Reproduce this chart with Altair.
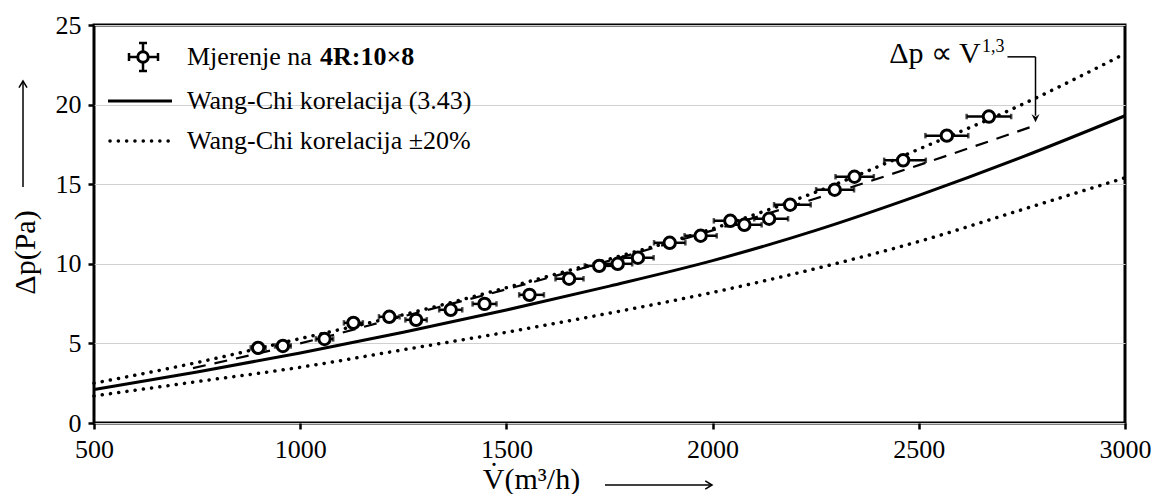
import altair as alt
import pandas as pd

# ---------------- data ----------------
V_meas = [898, 958, 1059, 1129, 1216, 1281, 1365, 1447, 1556, 1652, 1725, 1770,
          1819, 1896, 1971, 2043, 2077, 2137, 2188, 2296, 2344, 2462, 2568, 2670]
dp_meas = [4.72, 4.84, 5.28, 6.29, 6.67, 6.48, 7.11, 7.48, 8.05, 9.06, 9.87, 10.0,
           10.38, 11.32, 11.76, 12.7, 12.45, 12.83, 13.71, 14.65, 15.47, 16.5, 18.05, 19.25]
err_lo = [18, 19, 21, 23, 25, 26, 28, 29, 25, 33, 35, 35,
          36, 38, 39, 40, 41, 36, 39, 45, 46, 46, 52, 54]
err_hi = [18, 19, 21, 23, 25, 26, 28, 29, 35, 35, 35, 35,
          38, 38, 39, 42, 42, 46, 50, 47, 47, 55, 52, 54]

V_curve = [500, 750, 1000, 1250, 1500, 1750, 2000, 2250, 2500, 2750, 3000]
dp_wang = [2.1, 3.2, 4.4, 5.7, 7.1, 8.6, 10.2, 12.1, 14.3, 16.7, 19.3]
dp_upper = [2.5, 3.8, 5.3, 6.8, 8.5, 10.3, 12.2, 14.5, 17.2, 20.0, 23.2]
dp_lower = [1.7, 2.6, 3.5, 4.6, 5.7, 6.9, 8.2, 9.7, 11.4, 13.4, 15.4]

V_fit = [740, 1000, 1250, 1500, 1750, 2000, 2250, 2500, 2783]
dp_fit = [3.45, 5.0, 6.7, 8.4, 10.2, 12.1, 14.1, 16.2, 18.7]

x_ticks = [500, 1000, 1500, 2000, 2500, 3000]
y_ticks = [0, 5, 10, 15, 20, 25]

legend_labels = ["Mjerenje na", "4R:10×8", "Wang-Chi korelacija (3.43)", "Wang-Chi korelacija ±20%"]

FONT = "Liberation Serif"

# ---------------- tables ----------------
meas = pd.DataFrame({
    "V": V_meas, "dp": dp_meas,
    "lo": [v - e for v, e in zip(V_meas, err_lo)],
    "hi": [v + e for v, e in zip(V_meas, err_hi)],
})
curves = pd.DataFrame({"V": V_curve, "wang": dp_wang, "up": dp_upper, "low": dp_lower})
fit = pd.DataFrame({"V": V_fit, "dp": dp_fit})

xs = alt.Scale(domain=[500, 3000], nice=False, zero=False)
ys = alt.Scale(domain=[0, 25], nice=False, zero=True)

xenc = alt.X("V:Q", scale=xs, axis=alt.Axis(
    values=x_ticks, format="d", title="V̇(m³/h)", grid=False, labelFlush=False, labelPadding=7,
    titleX=437, titleY=65, titleBaseline="alphabetic", titleAlign="center", titleAnchor="start"))
yenc = alt.Y("dp:Q", scale=ys, axis=alt.Axis(
    values=y_ticks, format="d", title="Δp(Pa)", grid=True, labelFlush=False, labelPadding=7,
    titleX=-69, titleY=227, titleAngle=270, titleAlign="center", titleBaseline="middle"))

base = alt.Chart(curves)
DOT = dict(color="black", strokeWidth=3.5, strokeDash=[0.1, 8.2], strokeCap="round", interpolate="monotone")

wang = base.mark_line(color="black", strokeWidth=3, interpolate="monotone").encode(
    x=xenc, y=alt.Y("wang:Q", scale=ys))
up = base.mark_line(**DOT).encode(x="V:Q", y=alt.Y("up:Q", scale=ys))
low = base.mark_line(**DOT).encode(x="V:Q", y=alt.Y("low:Q", scale=ys))

fitline = alt.Chart(fit).mark_line(color="black", strokeWidth=2.2, strokeDash=[13, 9],
                                   interpolate="monotone").encode(
    x=alt.X("V:Q", scale=xs), y=yenc)

ebar = alt.Chart(meas).mark_rule(color="black", strokeWidth=2.5).encode(
    x=alt.X("lo:Q", scale=xs), x2="hi:Q", y=alt.Y("dp:Q", scale=ys))
cap_shape = "M 0 -1 L 0 1"
cap_lo = alt.Chart(meas).mark_point(shape=cap_shape, size=30, color="black", strokeWidth=2.5).encode(
    x=alt.X("lo:Q", scale=xs), y=alt.Y("dp:Q", scale=ys))
cap_hi = alt.Chart(meas).mark_point(shape=cap_shape, size=30, color="black", strokeWidth=2.5).encode(
    x=alt.X("hi:Q", scale=xs), y=alt.Y("dp:Q", scale=ys))
pts = alt.Chart(meas).mark_point(shape="circle", size=130, filled=False, fill="white", fillOpacity=1,
                                 stroke="black", strokeWidth=3, opacity=1).encode(
    x=alt.X("V:Q", scale=xs), y=alt.Y("dp:Q", scale=ys))

# ---------------- annotation (data coordinates) ----------------
ann = pd.DataFrame({"V": [2650], "dp": [22.6]})
ann_sup = pd.DataFrame({"V": [2653], "dp": [23.3]})
ann_h = pd.DataFrame({"V": [2715], "V2": [2783], "dp": [23.0]})
ann_v = pd.DataFrame({"V": [2783], "dp": [23.0], "dp2": [19.3]})
ann_head = pd.DataFrame({"V": [2783], "dp": [19.1]})

t_ann = alt.Chart(ann).mark_text(text="Δp ∝ V", font=FONT, fontSize=30, align="right",
                                 baseline="alphabetic", color="black").encode(
    x=alt.X("V:Q", scale=xs), y=alt.Y("dp:Q", scale=ys))
t_sup = alt.Chart(ann_sup).mark_text(text="1,3", font=FONT, fontSize=18, align="left",
                                     baseline="alphabetic", color="black").encode(
    x=alt.X("V:Q", scale=xs), y=alt.Y("dp:Q", scale=ys))
r_h = alt.Chart(ann_h).mark_rule(color="black", strokeWidth=1.5).encode(
    x=alt.X("V:Q", scale=xs), x2="V2:Q", y=alt.Y("dp:Q", scale=ys))
r_v = alt.Chart(ann_v).mark_rule(color="black", strokeWidth=1.5).encode(
    x=alt.X("V:Q", scale=xs), y=alt.Y("dp:Q", scale=ys), y2="dp2:Q")
head = alt.Chart(ann_head).mark_point(shape="M -0.5 -0.6 L 0 0.4 L 0.5 -0.6 L 0 -0.25 Z", size=260,
                                      filled=True, color="black", opacity=1).encode(
    x=alt.X("V:Q", scale=xs), y=alt.Y("dp:Q", scale=ys))

# ---------------- manual legend and axis-title arrows (pixels, relative to plot area) ----------------
one = pd.DataFrame({"a": [0]})
lg = alt.Chart(one)
K = dict(color="black", strokeWidth=2.5)
lg_bar_h = lg.mark_rule(**K).encode(x=alt.value(35), x2=alt.value(64), y=alt.value(32))
lg_bar_v = lg.mark_rule(**K).encode(x=alt.value(49), y=alt.value(18), y2=alt.value(46))
lg_cap_l = lg.mark_rule(**K).encode(x=alt.value(35), y=alt.value(28), y2=alt.value(36))
lg_cap_r = lg.mark_rule(**K).encode(x=alt.value(64), y=alt.value(28), y2=alt.value(36))
lg_cap_t = lg.mark_rule(**K).encode(x=alt.value(45), x2=alt.value(53), y=alt.value(18))
lg_cap_b = lg.mark_rule(**K).encode(x=alt.value(45), x2=alt.value(53), y=alt.value(46))
lg_circ = lg.mark_point(shape="circle", size=110, filled=False, fill="white", fillOpacity=1,
                        stroke="black", strokeWidth=3, opacity=1).encode(
    x=alt.value(49), y=alt.value(32))
lg_solid = lg.mark_rule(color="black", strokeWidth=3).encode(
    x=alt.value(14), x2=alt.value(78), y=alt.value(76))
lg_dot = lg.mark_rule(color="black", strokeWidth=3.5, strokeDash=[0.1, 8.2], strokeCap="round").encode(
    x=alt.value(16), x2=alt.value(78), y=alt.value(116))
lg_t1 = lg.mark_text(text=legend_labels[0], font=FONT, fontSize=26, align="left", baseline="middle").encode(
    x=alt.value(93), y=alt.value(32))
lg_t1b = lg.mark_text(text=legend_labels[1], font=FONT, fontSize=26, fontWeight="bold", align="left",
                      baseline="middle").encode(x=alt.value(226), y=alt.value(32))
lg_t2 = lg.mark_text(text=legend_labels[2], font=FONT, fontSize=26, align="left", baseline="middle").encode(
    x=alt.value(93), y=alt.value(76))
lg_t3 = lg.mark_text(text=legend_labels[3], font=FONT, fontSize=26, align="left", baseline="middle").encode(
    x=alt.value(93), y=alt.value(116))

# y-title arrow (pointing up) and x-title arrow (pointing right)
ya_line = lg.mark_rule(color="black", strokeWidth=1.5).encode(
    x=alt.value(-71), y=alt.value(57), y2=alt.value(162))
ya_head = lg.mark_point(shape="M -0.6 1 L 0 0 L 0.6 1", size=180, filled=False, color="black",
                        strokeWidth=1.5, opacity=1).encode(x=alt.value(-71), y=alt.value(56))
xa_line = lg.mark_rule(color="black", strokeWidth=1.5).encode(
    x=alt.value(511), x2=alt.value(617), y=alt.value(460))
xa_head = lg.mark_point(shape="M -1 -0.6 L 0 0 L -1 0.6", size=180, filled=False, color="black",
                        strokeWidth=1.5, opacity=1).encode(x=alt.value(618), y=alt.value(460))

chart = alt.layer(
    fitline, wang, up, low, ebar, cap_lo, cap_hi, pts,
    r_h, r_v, head, t_ann, t_sup,
    lg_bar_h, lg_bar_v, lg_cap_l, lg_cap_r, lg_cap_t, lg_cap_b, lg_circ,
    lg_solid, lg_dot, lg_t1, lg_t1b, lg_t2, lg_t3,
    ya_line, ya_head, xa_line, xa_head,
).properties(
    width=1031, height=398,
    autosize=alt.AutoSizeParams(type="none"),
    padding={"left": 86, "top": 17, "right": 27, "bottom": 71},
).configure_view(
    stroke="black", strokeWidth=3,
).configure_axis(
    labelFont=FONT, labelFontSize=26, labelColor="black",
    titleFont=FONT, titleFontSize=30, titleColor="black", titleFontWeight="normal",
    tickColor="black", tickWidth=2.5, tickSize=6,
    domain=False, gridColor="#d0d0d0", gridWidth=1.2,
)

chart.save("out.html", embed_options={"renderer": "svg", "actions": False})
